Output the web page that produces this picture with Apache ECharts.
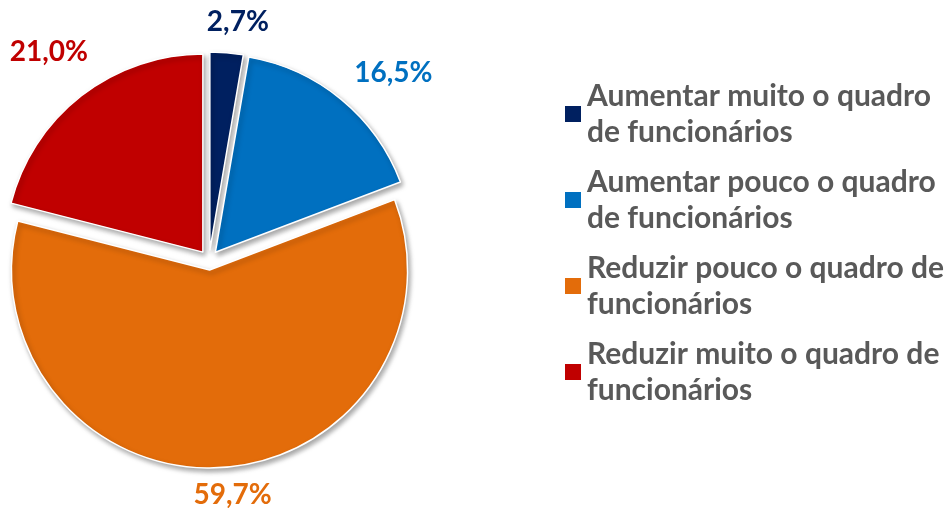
<!DOCTYPE html>
<html lang="pt">
<head>
    <meta charset="UTF-8">
    <script src="https://cdn.jsdelivr.net/npm/echarts@6.0.0/dist/echarts.min.js"></script>
    <style>
        html, body { margin: 0; padding: 0; background: #fff; }
    </style>
</head>
<body>
<div id="pieChart" style="width: 946px;height:508px;"></div>
<script type="text/javascript">

    var categories = [
        "Aumentar muito o quadro de funcionários",
        "Aumentar pouco o quadro de funcionários",
        "Reduzir pouco o quadro de funcionários",
        "Reduzir muito o quadro de funcionários"
    ];
    var legendLines = [
        "Aumentar muito o quadro\nde funcionários",
        "Aumentar pouco o quadro\nde funcionários",
        "Reduzir pouco o quadro de\nfuncionários",
        "Reduzir muito o quadro de\nfuncionários"
    ];
    var values = [2.7, 16.5, 59.7, 21.0];
    var colors = ["#002060", "#0070C0", "#E36C0A", "#C00000"];

    // where each percentage label sits (same order as categories)
    var labelSpots = [[237, 32], [387, 81], [232, 485], [55, 60]];

    var chart = echarts.init(document.getElementById("pieChart"));

    var pieData = categories.map(function (name, i) {
        return {
            name: name,
            value: values[i],
            selected: true,
            itemStyle: { color: colors[i] },
            label: { color: colors[i] }
        };
    });

    var option = {
        animation: false,
        color: colors,
        legend: {
            orient: "vertical",
            left: 558,
            top: 55,
            itemWidth: 18,
            itemHeight: 18,
            itemGap: -22,
            icon: "rect",
            selectedMode: false,
            data: categories,
            formatter: function (name) {
                return legendLines[categories.indexOf(name)];
            },
            textStyle: {
                fontFamily: "Lato",
                fontWeight: "bold",
                fontSize: 30,
                color: "#595959",
                lineHeight: 36,
                padding: [36, 0, 0, 0]
            }
        },
        series: [{
            type: "pie",
            center: [209, 260],
            radius: 198,
            startAngle: 90,
            clockwise: true,
            selectedMode: "multiple",
            selectedOffset: 10,
            data: pieData,
            itemStyle: {
                borderColor: "#fff",
                borderWidth: 1.5,
                shadowBlur: 5,
                shadowColor: "rgba(0,0,0,0.35)",
                shadowOffsetX: 2,
                shadowOffsetY: 3
            },
            label: {
                show: true,
                position: "outside",
                overflow: "none",
                formatter: function (p) {
                    return p.value.toFixed(1).replace(".", ",") + "%";
                },
                fontFamily: "Lato",
                fontWeight: "bold",
                fontSize: 28
            },
            labelLine: { show: false },
            labelLayout: function (params) {
                var s = labelSpots[params.dataIndex];
                var r = params.labelRect;
                return {
                    dx: s[0] - (r.x + r.width / 2),
                    dy: s[1] - (r.y + r.height / 2)
                };
            },
            emphasis: { disabled: true }
        }]
    };

    chart.setOption(option);
</script>
</body>
</html>
